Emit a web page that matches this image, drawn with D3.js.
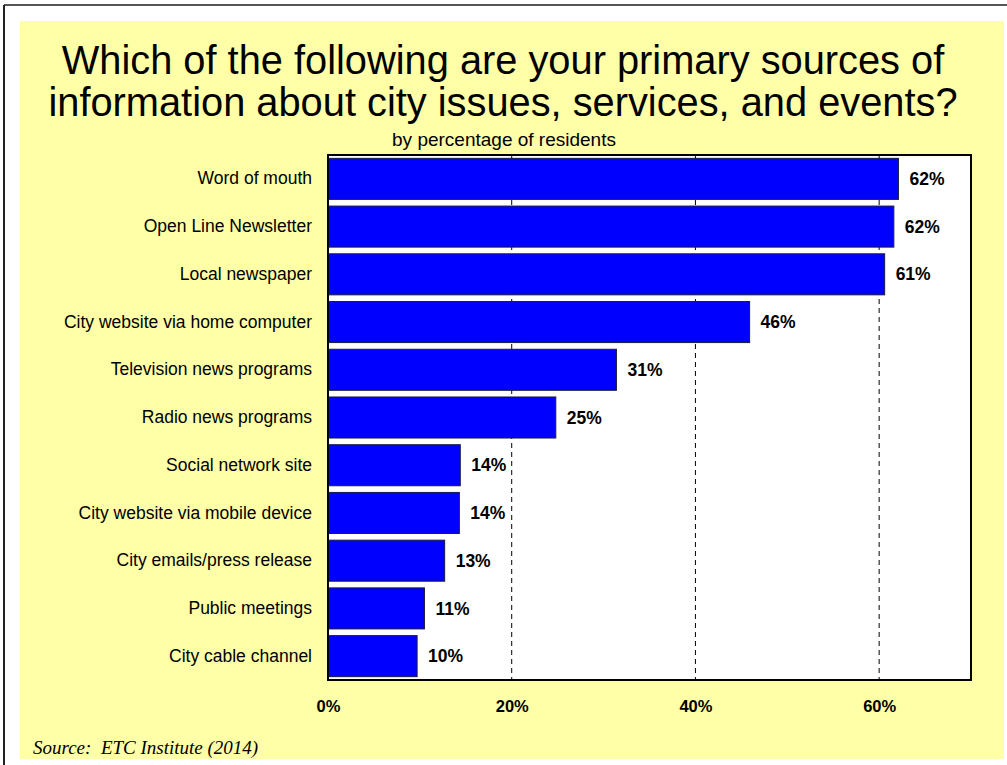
<!DOCTYPE html>
<html>
<head>
<meta charset="utf-8">
<script src="https://cdn.jsdelivr.net/npm/d3@7"></script>
<style>
  html, body { margin: 0; padding: 0; background: #ffffff; }
  svg { display: block; }
  .sans { font-family: Arial, "Liberation Sans", sans-serif; }
  .serif { font-family: "Times New Roman", "Liberation Serif", serif; white-space: pre; }
</style>
</head>
<body>
<svg id="chart" width="1007" height="765"></svg>
<script>
// Survey responses: primary information sources (% of residents)
const categories = [
  "Word of mouth",
  "Open Line Newsletter",
  "Local newspaper",
  "City website via home computer",
  "Television news programs",
  "Radio news programs",
  "Social network site",
  "City website via mobile device",
  "City emails/press release",
  "Public meetings",
  "City cable channel"
];
const values = [62.1, 61.6, 60.6, 45.9, 31.4, 24.8, 14.4, 14.3, 12.7, 10.5, 9.7];
const tickValues = [0, 20, 40, 60];
const titleLines = [
  "Which of the following are your primary sources of",
  "information about city issues, services, and events?"
];
const subtitle = "by percentage of residents";
const source = "Source:  ETC Institute (2014)";

const svg = d3.select("#chart");
const W = 1007, H = 765;

// page frame
svg.append("line").attr("x1", 4).attr("x2", W).attr("y1", 5).attr("y2", 5)
  .attr("stroke", "#555").attr("stroke-width", 2);
svg.append("line").attr("x1", 4).attr("x2", 4).attr("y1", 5).attr("y2", H)
  .attr("stroke", "#222").attr("stroke-width", 2);

// yellow panel
svg.append("rect").attr("x", 20).attr("y", 21).attr("width", 984).attr("height", 738)
  .attr("fill", "#FFFFA8");

// title and subtitle
svg.selectAll("text.title").data(titleLines).join("text")
  .attr("class", "title sans")
  .attr("x", 503).attr("y", (d, i) => 74 + i * 42)
  .attr("text-anchor", "middle")
  .attr("font-size", 39.8).attr("fill", "#000")
  .text(d => d);

svg.append("text").attr("class", "sans").attr("x", 504).attr("y", 146)
  .attr("text-anchor", "middle").attr("font-size", 19).attr("fill", "#000")
  .text(subtitle);

// plot area
const plot = { left: 328, right: 971, top: 155, bottom: 680 };

const x = d3.scaleLinear().domain([0, 70]).range([plot.left, plot.right]);
const y = d3.scaleBand().domain(categories).range([plot.top, plot.bottom])
  .paddingInner(0.14).paddingOuter(0.07);

svg.append("rect")
  .attr("x", plot.left).attr("y", plot.top)
  .attr("width", plot.right - plot.left).attr("height", plot.bottom - plot.top)
  .attr("fill", "#fff");

// dashed vertical gridlines
svg.append("g").selectAll("line").data(tickValues.filter(v => v > 0)).join("line")
  .attr("x1", d => x(d)).attr("x2", d => x(d))
  .attr("y1", plot.top).attr("y2", plot.bottom)
  .attr("stroke", "#000").attr("stroke-width", 1)
  .attr("stroke-dasharray", "5,4");

// bars
const data = categories.map((c, i) => ({ c, v: values[i] }));
svg.append("g").selectAll("rect").data(data).join("rect")
  .attr("x", x(0)).attr("y", d => y(d.c))
  .attr("width", d => x(d.v) - x(0)).attr("height", y.bandwidth())
  .attr("fill", "#0000FF").attr("stroke", "#1a1a40").attr("stroke-width", 1);

// value labels
svg.append("g").selectAll("text").data(data).join("text")
  .attr("class", "sans")
  .attr("x", d => x(d.v) + 11)
  .attr("y", d => y(d.c) + y.bandwidth() / 2)
  .attr("dy", "0.35em")
  .attr("font-size", 17.5).attr("font-weight", "bold").attr("fill", "#000")
  .text(d => Math.round(d.v) + "%");

// plot frame
svg.append("rect")
  .attr("x", plot.left).attr("y", plot.top)
  .attr("width", plot.right - plot.left).attr("height", plot.bottom - plot.top)
  .attr("fill", "none").attr("stroke", "#000").attr("stroke-width", 2);

// category axis
const yAxis = svg.append("g")
  .attr("transform", `translate(${plot.left - 16},0)`)
  .call(d3.axisLeft(y).tickSize(0).tickPadding(0));
yAxis.select(".domain").remove();
yAxis.selectAll("text").attr("class", "sans").attr("font-size", 17.5).attr("fill", "#000");

// value axis
const xAxis = svg.append("g")
  .attr("transform", `translate(0,${plot.bottom})`)
  .call(d3.axisBottom(x).tickValues(tickValues).tickSize(0).tickPadding(20)
    .tickFormat(d => d + "%"));
xAxis.select(".domain").remove();
xAxis.selectAll("text").attr("class", "sans").attr("font-size", 16.5)
  .attr("font-weight", "bold").attr("fill", "#000");

// source note
svg.append("text").attr("class", "serif").attr("x", 33).attr("y", 754)
  .attr("font-style", "italic").attr("font-size", 19).attr("fill", "#000")
  .text(source);
</script>
</body>
</html>
